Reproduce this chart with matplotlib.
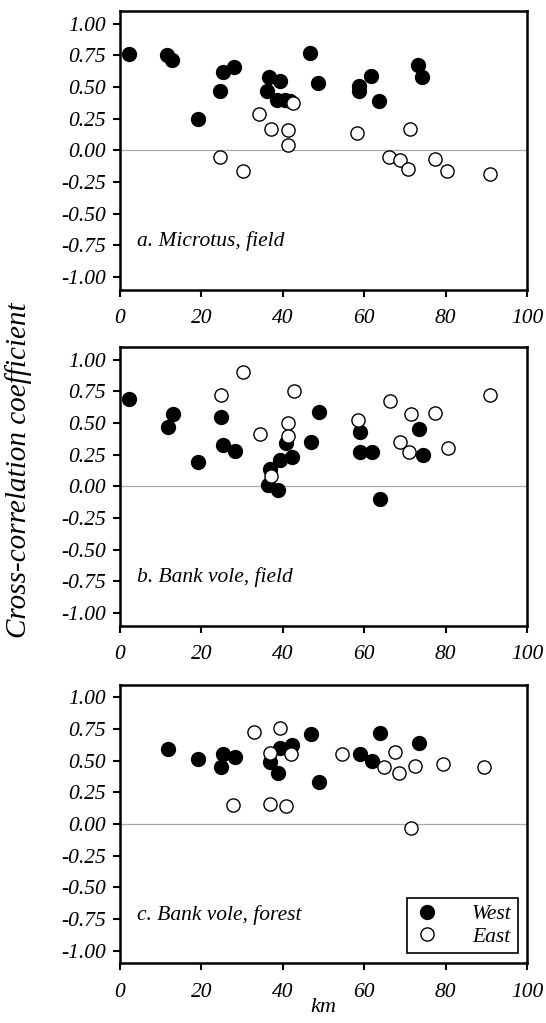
import matplotlib
matplotlib.use('Agg')
import matplotlib.pyplot as plt
from matplotlib.ticker import FormatStrFormatter

plt.rcParams['font.family'] = 'Liberation Serif'
plt.rcParams['font.style'] = 'italic'
plt.rcParams['axes.unicode_minus'] = False

# a. Microtus, field
a_west_x = [2.2, 11.6, 12.7, 25.2, 28.1, 24.6, 19.2, 36.7, 39.3, 36.1, 38.5, 40.5, 41.8, 46.7, 48.7,
            61.7, 58.8, 58.8, 63.7, 73.3, 74.3]
a_west_y = [0.76, 0.75, 0.71, 0.62, 0.66, 0.47, 0.25, 0.58, 0.55, 0.47, 0.40, 0.40, 0.39, 0.77, 0.53,
            0.59, 0.51, 0.47, 0.39, 0.67, 0.58]
a_east_x = [42.6, 34.2, 37.2, 41.4, 41.4, 24.6, 30.1, 58.2, 71.2, 66.2, 68.8, 70.8, 77.3, 80.3, 90.8]
a_east_y = [0.37, 0.29, 0.17, 0.16, 0.04, -0.05, -0.16, 0.14, 0.17, -0.05, -0.08, -0.15, -0.07, -0.16, -0.19]

# b. Bank vole, field
b_west_x = [2.2, 12.9, 11.9, 19.2, 24.8, 25.3, 28.3, 36.9, 36.4, 38.9, 39.3, 40.7, 42.3, 46.9, 48.9,
            59.0, 59.0, 62.0, 73.5, 74.5, 63.9]
b_west_y = [0.69, 0.57, 0.47, 0.19, 0.55, 0.33, 0.28, 0.14, 0.01, -0.03, 0.21, 0.34, 0.23, 0.35, 0.59,
            0.43, 0.27, 0.27, 0.45, 0.25, -0.10]
b_east_x = [30.3, 24.9, 42.8, 34.3, 41.4, 41.4, 37.2, 58.4, 66.3, 71.4, 77.4, 68.8, 70.9, 80.5, 91.0]
b_east_y = [0.90, 0.72, 0.75, 0.41, 0.50, 0.40, 0.08, 0.52, 0.67, 0.57, 0.58, 0.35, 0.27, 0.30, 0.72]

# c. Bank vole, forest
c_west_x = [11.9, 19.2, 25.3, 24.8, 28.3, 36.9, 38.9, 39.3, 42.3, 46.9, 48.9, 63.9, 59.0, 62.0, 73.5]
c_west_y = [0.59, 0.51, 0.55, 0.45, 0.53, 0.49, 0.40, 0.60, 0.62, 0.71, 0.33, 0.72, 0.55, 0.50, 0.64]
c_east_x = [32.9, 39.3, 36.9, 41.9, 27.8, 36.9, 40.9, 54.5, 67.5, 64.9, 68.5, 72.5, 79.4, 89.4, 71.4]
c_east_y = [0.73, 0.76, 0.56, 0.55, 0.15, 0.16, 0.14, 0.55, 0.57, 0.45, 0.40, 0.46, 0.47, 0.45, -0.03]

panels = [
    ('a. Microtus, field', a_west_x, a_west_y, a_east_x, a_east_y),
    ('b. Bank vole, field', b_west_x, b_west_y, b_east_x, b_east_y),
    ('c. Bank vole, forest', c_west_x, c_west_y, c_east_x, c_east_y),
]

W, H = 546, 1023
fig = plt.figure(figsize=(W / 100, H / 100), dpi=100)

left, right = 120, 527
tops = [11, 347, 684.7]
height = 278.6

for i, (label, wx, wy, ex, ey) in enumerate(panels):
    ax = fig.add_axes([left / W, 1 - (tops[i] + height) / H, (right - left) / W, height / H])
    ax.axhline(0, color='#aaaaaa', lw=0.9, zorder=1)
    ax.plot(wx, wy, 'o', ms=10, mfc='black', mec='black', mew=1, ls='none', zorder=3, label='West')
    ax.plot(ex, ey, 'o', ms=9.5, mfc='white', mec='black', mew=1, ls='none', zorder=3, label='East')
    ax.set_xlim(0, 100)
    ax.set_ylim(-1.1, 1.1)
    ax.set_xticks([0, 20, 40, 60, 80, 100])
    ax.set_yticks([-1.0, -0.75, -0.5, -0.25, 0, 0.25, 0.5, 0.75, 1.0])
    ax.yaxis.set_major_formatter(FormatStrFormatter('%.2f'))
    ax.tick_params(direction='out', length=5, width=1.5, labelsize=15.5)
    ax.tick_params(axis='x', pad=9)
    ax.tick_params(axis='y', pad=5)
    for s in ax.spines.values():
        s.set_linewidth(1.8)
    ax.text(4.2, -0.72, label, fontsize=15.5, va='center', ha='left')
    if i == 2:
        ax.legend(loc='lower right', bbox_to_anchor=(0.978, 0.037), borderaxespad=0,
                  fancybox=False, edgecolor='black', framealpha=1, fontsize=15.5,
                  handletextpad=1.5, borderpad=0.3, labelspacing=0.1, handlelength=1.2)
        ax.legend_.get_frame().set_linewidth(1.2)
        ax.set_xlabel('km', fontsize=16, labelpad=-3)

fig.text(19 / W, 1 - 470 / H, 'Cross-correlation coefficient', rotation=90,
         fontsize=21, va='center', ha='center')

fig.savefig('out.png', dpi=100)
